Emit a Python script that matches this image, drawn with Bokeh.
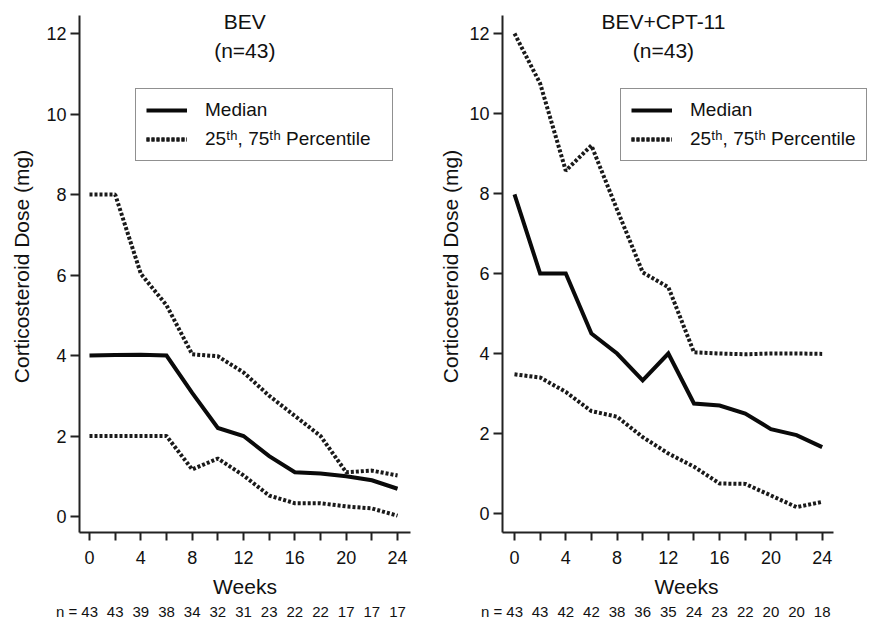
from bokeh.plotting import figure
from bokeh.layouts import row
from bokeh.models import (ColumnDataSource, FixedTicker, Legend, LegendItem,
                          Label, LinearAxis, Range1d)
from bokeh.embed import file_html
from bokeh.resources import INLINE

# ---------------- data ----------------
weeks = [0, 2, 4, 6, 8, 10, 12, 14, 16, 18, 20, 22, 24]
week_ticks = [0, 4, 8, 12, 16, 20, 24]
week_minor_ticks = [2, 6, 10, 14, 18, 22]
dose_ticks = [0, 2, 4, 6, 8, 10, 12]

bev_median = [4.0, 4.01, 4.02, 4.0, 3.07, 2.2, 2.0, 1.5, 1.1, 1.07, 1.0, 0.9, 0.69]
bev_p75 = [8.0, 8.0, 6.03, 5.25, 4.03, 3.98, 3.58, 3.0, 2.5, 2.0, 1.1, 1.14, 1.02]
bev_p25 = [2.0, 2.0, 2.0, 2.0, 1.17, 1.44, 1.02, 0.52, 0.33, 0.33, 0.25, 0.2, 0.02]
bev_n = [43, 43, 39, 38, 34, 32, 31, 23, 22, 22, 17, 17, 17]

cpt_median = [7.98, 6.0, 6.0, 4.5, 4.0, 3.33, 4.0, 2.75, 2.7, 2.5, 2.11, 1.96, 1.66]
cpt_p75 = [12.0, 10.75, 8.57, 9.2, 7.6, 6.03, 5.66, 4.03, 4.0, 3.98, 4.0, 4.0, 3.99]
cpt_p25 = [3.48, 3.4, 3.04, 2.56, 2.42, 1.91, 1.5, 1.17, 0.75, 0.74, 0.45, 0.16, 0.29]
cpt_n = [43, 43, 42, 42, 38, 36, 35, 24, 23, 22, 20, 20, 18]

panel_titles = ["BEV", "BEV+CPT-11"]
panel_subtitles = ["(n=43)", "(n=43)"]
n_prefix = "n ="

FONT = "Liberation Sans"
INK = "#111111"
AX = "#222222"


def make_panel(median, p75, p25, n_vals, title, subtitle,
               x_rng, x_bounds, y_rng, y_bounds, width,
               border_left, border_right, ylab_standoff,
               title_x, title_ys, legend_loc, legend_label_w):
    p = figure(width=width, height=622,
               x_range=Range1d(*x_rng), y_range=Range1d(*y_rng),
               output_backend="svg", toolbar_location=None, title=None,
               min_border_left=border_left, min_border_right=border_right,
               min_border_top=0, min_border_bottom=90)
    p.outline_line_color = None
    p.xgrid.visible = False
    p.ygrid.visible = False
    p.background_fill_color = "white"
    p.border_fill_color = "white"

    src = ColumnDataSource(dict(week=weeks, med=median, hi=p75, lo=p25))
    r_hi = p.line("week", "hi", source=src, line_color="#1a1a1a",
                  line_width=4, line_dash="3 2")
    r_lo = p.line("week", "lo", source=src, line_color="#1a1a1a",
                  line_width=4, line_dash="3 2")
    r_med = p.line("week", "med", source=src, line_color="#0a0a0a",
                   line_width=4, line_join="miter")

    # axes
    xa = p.xaxis[0]
    xa.ticker = FixedTicker(ticks=week_ticks, minor_ticks=week_minor_ticks)
    xa.axis_label = "Weeks"
    xa.bounds = x_bounds
    ya = p.yaxis[0]
    ya.ticker = FixedTicker(ticks=dose_ticks, minor_ticks=[])
    ya.axis_label = "Corticosteroid Dose (mg)"
    ya.bounds = y_bounds
    for ax in (xa, ya):
        ax.axis_line_width = 2
        ax.axis_line_color = AX
        ax.major_tick_line_width = 2
        ax.major_tick_line_color = AX
        ax.major_tick_in = 0
        ax.minor_tick_in = 0
        ax.minor_tick_line_width = 2
        ax.minor_tick_line_color = AX
        ax.major_label_text_font = FONT
        ax.major_label_text_font_size = "18px"
        ax.major_label_text_color = INK
        ax.axis_label_text_font = FONT
        ax.axis_label_text_font_size = "21px"
        ax.axis_label_text_font_style = "normal"
        ax.axis_label_text_color = INK
    xa.major_tick_out = 8
    xa.minor_tick_out = 8
    xa.major_label_standoff = 10
    xa.axis_label_standoff = 8
    ya.major_tick_out = 9
    ya.major_label_standoff = 4
    ya.axis_label_standoff = ylab_standoff

    # patient counts: an extra axis under "Weeks"
    n_text = {w: str(v) for w, v in zip(weeks, n_vals)}
    n_text[weeks[0]] = n_prefix + " " + str(n_vals[0]) + "\u00a0" * 6
    n_axis = LinearAxis(ticker=FixedTicker(ticks=weeks, minor_ticks=[]),
                        major_label_overrides=n_text)
    n_axis.axis_line_color = None
    n_axis.major_tick_line_color = None
    n_axis.minor_tick_line_color = None
    n_axis.major_tick_out = 0
    n_axis.major_tick_in = 0
    n_axis.major_label_standoff = 2
    n_axis.major_label_text_font = FONT
    n_axis.major_label_text_font_size = "15px"
    n_axis.major_label_text_color = INK
    p.add_layout(n_axis, "below")

    # panel titles
    p.add_layout(Label(x=title_x, y=title_ys[0], text=title,
                       text_font=FONT, text_font_size="21px",
                       text_color=INK, text_align="center",
                       text_baseline="middle"))
    p.add_layout(Label(x=title_x, y=title_ys[1], text=subtitle,
                       text_font=FONT, text_font_size="21px",
                       text_color=INK, text_align="center",
                       text_baseline="middle"))

    # legend
    legend = Legend(items=[
        LegendItem(label="Median", renderers=[r_med]),
        LegendItem(label="25\u1d57\u02b0, 75\u1d57\u02b0 Percentile",
                   renderers=[r_hi, r_lo]),
    ], location=legend_loc)
    legend.label_text_font = FONT
    legend.label_text_font_size = "19px"
    legend.label_text_color = INK
    legend.glyph_width = 41
    legend.glyph_height = 20
    legend.label_standoff = 18
    legend.label_width = legend_label_w
    legend.padding = 10
    legend.spacing = 7
    legend.margin = 0
    legend.border_line_color = AX
    legend.border_line_width = 1.5
    legend.background_fill_color = "white"
    legend.background_fill_alpha = 1.0
    p.add_layout(legend)
    return p


p1 = make_panel(bev_median, bev_p75, bev_p25, bev_n,
                panel_titles[0], panel_subtitles[0],
                (-0.779, 25.01), (-0.779, 25.01),
                (-0.3975, 12.82), (-0.3975, 12.447),
                435, 79, 25, 10,
                12.1, (12.30, 11.58), (56, 371), 177)
p2 = make_panel(cpt_median, cpt_p75, cpt_p25, cpt_n,
                panel_titles[1], panel_subtitles[1],
                (-0.936, 27.77), (-0.936, 24.88),
                (-0.475, 12.825), (-0.475, 12.45),
                435, 67, 0, 4,
                11.62, (12.30, 11.58), (118, 371), 165)

layout = row(p1, p2)
open("out.html", "w").write(file_html(layout, INLINE))
